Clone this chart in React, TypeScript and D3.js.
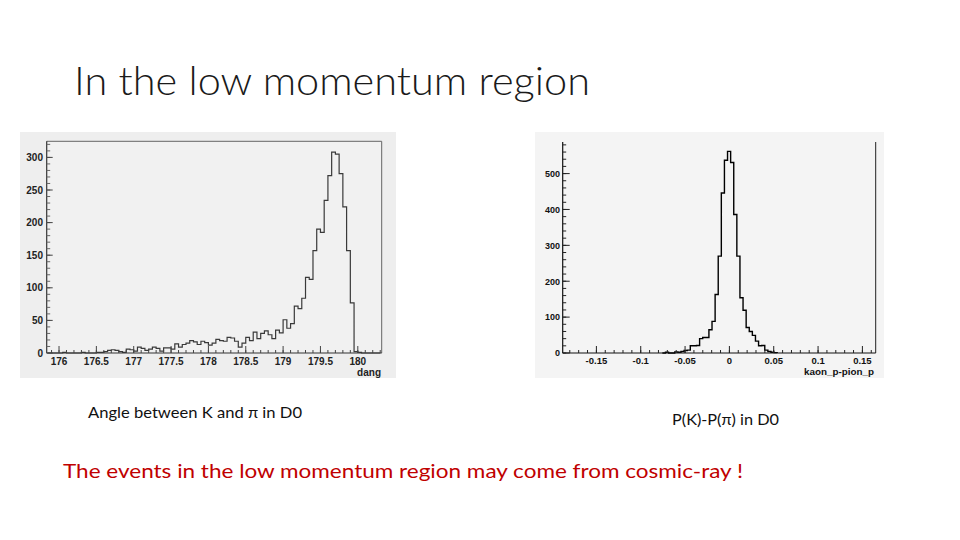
import React from "react";
import * as d3 from "d3";

// ---------- Left histogram: angle between K and pi (dang) ----------
const dangBinStart = 175.85;
const dangBinWidth = 0.05;
const dangCounts = [
  0, 0, 0, 0, 1, 0, 0, 0, 0, 1, 0, 0, 0,
  1, 1, 2, 4, 5, 4, 2, 1, 6, 5,
  3, 9, 7, 4, 6, 9, 7, 3, 8, 8,
  6, 14, 9, 13, 15, 19, 17, 13, 18, 16,
  12, 15, 21, 19, 18, 24, 23, 18, 9, 15,
  24, 19, 32, 22, 30, 34, 28, 22, 35, 31,
  51, 38, 45, 72, 68, 84, 116, 113, 157, 190,
  185, 234, 272, 308, 305, 275, 224, 157, 77, 2,
  1, 0, 0, 0, 0, 0,
];
const dangXTicks = [176, 176.5, 177, 177.5, 178, 178.5, 179, 179.5, 180];
const dangXTickLabels = ["176", "176.5", "177", "177.5", "178", "178.5", "179", "179.5", "180"];
const dangYTicks = [0, 50, 100, 150, 200, 250, 300];

// ---------- Right histogram: kaon_p - pion_p ----------
const dpBinStart = -0.0756;
const dpBinWidth = 0.0035;
const dpCounts = [
  0, 2, 0, 0, 3, 2, 4, 7, 8, 20, 20, 21, 40, 43, 43, 65, 88,
  163, 270, 446, 537, 562, 531, 386, 270, 154, 119, 71,
  60, 49, 33, 20, 21, 8, 4, 2, 1,
];
const dpXTicks = [-0.15, -0.1, -0.05, 0, 0.05, 0.1, 0.15];
const dpXTickLabels = ["-0.15", "-0.1", "-0.05", "0", "0.05", "0.1", "0.15"];
const dpYTicks = [0, 100, 200, 300, 400, 500];

const titleText = "In the low momentum region";
const caption1 = "Angle between K and π in D0";
const caption2 = "P(K)-P(π) in D0";
const conclusion = "The events in the low momentum region may come from cosmic-ray !";

const rootFont = "'Liberation Sans', Arial, Helvetica, sans-serif";
const slideFont = "Lato, 'Open Sans', 'Noto Sans', sans-serif";

function stepPath(
  start: number,
  width: number,
  counts: number[],
  x: d3.ScaleLinear<number, number>,
  y: d3.ScaleLinear<number, number>
) {
  const pts: [number, number][] = [];
  pts.push([start, 0]);
  counts.forEach((c, i) => pts.push([start + i * width, c]));
  const end = start + counts.length * width;
  pts.push([end, counts[counts.length - 1]]);
  pts.push([end, 0]);
  const line = d3
    .line<[number, number]>()
    .x((d) => x(d[0]))
    .y((d) => y(d[1]))
    .curve(d3.curveStepAfter);
  return line(pts) || "";
}

export default function App() {
  // Left chart scales
  const xL = d3.scaleLinear().domain([175.835, 180.32]).range([46.7, 381.7]);
  const yL = d3.scaleLinear().domain([0, 324.7]).range([353, 141.3]);
  const xLMinor = d3.range(175.9, 180.31, 0.1);
  const yLMinor = d3.range(0, 321, 10);

  // Right chart scales
  const xR = d3.scaleLinear().domain([-0.188, 0.165]).range([562.7, 875.7]);
  const yR = d3.scaleLinear().domain([0, 588]).range([353, 142]);
  const xRMinor = d3.range(-0.18, 0.161, 0.01);
  const yRMinor = d3.range(0, 581, 20);

  const [lx0, lx1] = xL.range();
  const [ly0, ly1] = yL.range();
  const [rx0, rx1] = xR.range();
  const [ry0, ry1] = yR.range();

  return (
    <svg
      width={960}
      height={540}
      style={{ position: "absolute", left: 0, top: 0, background: "#ffffff" }}
    >
      <rect x={0} y={0} width={960} height={540} fill="#ffffff" />

      {/* Title */}
      <text
        x={74}
        y={95}
        fontFamily={slideFont}
        fontWeight={300}
        fontSize={39}
        fill="#1a1a1a"
        textLength={516}
        lengthAdjust="spacingAndGlyphs"
      >
        {titleText}
      </text>

      {/* ---------- Left panel ---------- */}
      <rect x={20} y={132} width={376} height={246} fill="#eeeeee" />
      <rect x={lx0} y={ly1} width={lx1 - lx0} height={ly0 - ly1} fill="#f1f1f1" />
      {/* frame top/right */}
      <line x1={lx0} y1={ly1} x2={lx1} y2={ly1} stroke="#666" strokeWidth={1} />
      <line x1={lx1} y1={ly1} x2={lx1} y2={ly0} stroke="#666" strokeWidth={1} />
      {/* histogram */}
      <path
        d={stepPath(dangBinStart, dangBinWidth, dangCounts, xL, yL)}
        fill="none"
        stroke="#3a3a3a"
        strokeWidth={1.2}
      />
      {/* axes */}
      <line x1={lx0} y1={ly0} x2={lx1} y2={ly0} stroke="#333" strokeWidth={1.2} />
      <line x1={lx0} y1={ly0} x2={lx0} y2={ly1} stroke="#333" strokeWidth={1.2} />
      {xLMinor.map((v, i) => (
        <line key={"lxm" + i} x1={xL(v)} x2={xL(v)} y1={ly0} y2={ly0 - 3} stroke="#444" strokeWidth={1} />
      ))}
      {dangXTicks.map((v, i) => (
        <g key={"lx" + i}>
          <line x1={xL(v)} x2={xL(v)} y1={ly0} y2={ly0 - 7} stroke="#444" strokeWidth={1} />
          <text
            x={xL(v)}
            y={365}
            textAnchor="middle"
            fontFamily={rootFont}
            fontWeight="bold"
            fontSize={10}
            fill="#222"
          >
            {dangXTickLabels[i]}
          </text>
        </g>
      ))}
      {yLMinor.map((v, i) => (
        <line key={"lym" + i} x1={lx0} x2={lx0 + 3.5} y1={yL(v)} y2={yL(v)} stroke="#666" strokeWidth={1} />
      ))}
      {dangYTicks.map((v, i) => (
        <g key={"ly" + i}>
          <line x1={lx0} x2={lx0 + 6} y1={yL(v)} y2={yL(v)} stroke="#444" strokeWidth={1} />
          <text
            x={43}
            y={yL(v) + 3.6}
            textAnchor="end"
            fontFamily={rootFont}
            fontWeight="bold"
            fontSize={10}
            fill="#222"
          >
            {v}
          </text>
        </g>
      ))}
      <text
        x={381}
        y={375.5}
        textAnchor="end"
        fontFamily={rootFont}
        fontWeight="bold"
        fontSize={10}
        fill="#222"
      >
        dang
      </text>

      {/* ---------- Right panel ---------- */}
      <rect x={535} y={132} width={349} height={246} fill="#f4f4f4" />
      <line x1={rx1} y1={ry1} x2={rx1} y2={ry0} stroke="#222" strokeWidth={1} />
      <path
        d={stepPath(dpBinStart, dpBinWidth, dpCounts, xR, yR)}
        fill="none"
        stroke="#000"
        strokeWidth={1.4}
      />
      <line x1={rx0} y1={ry0} x2={rx1} y2={ry0} stroke="#111" strokeWidth={1.2} />
      <line x1={rx0} y1={ry0} x2={rx0} y2={ry1} stroke="#111" strokeWidth={1.2} />
      {xRMinor.map((v, i) => (
        <line key={"rxm" + i} x1={xR(v)} x2={xR(v)} y1={ry0} y2={ry0 - 3} stroke="#222" strokeWidth={1} />
      ))}
      {dpXTicks.map((v, i) => (
        <g key={"rx" + i}>
          <line x1={xR(v)} x2={xR(v)} y1={ry0} y2={ry0 - 7} stroke="#222" strokeWidth={1} />
          <text
            x={xR(v)}
            y={364}
            textAnchor="middle"
            fontFamily={rootFont}
            fontWeight="bold"
            fontSize={9.5}
            fill="#111"
          >
            {dpXTickLabels[i]}
          </text>
        </g>
      ))}
      {yRMinor.map((v, i) => (
        <line key={"rym" + i} x1={rx0} x2={rx0 + 3.5} y1={yR(v)} y2={yR(v)} stroke="#222" strokeWidth={1} />
      ))}
      {dpYTicks.map((v, i) => (
        <g key={"ry" + i}>
          <line x1={rx0} x2={rx0 + 7} y1={yR(v)} y2={yR(v)} stroke="#222" strokeWidth={1} />
          <text
            x={560}
            y={yR(v) + 3.3}
            textAnchor="end"
            fontFamily={rootFont}
            fontWeight="bold"
            fontSize={9}
            fill="#111"
          >
            {v}
          </text>
        </g>
      ))}
      <text
        x={874}
        y={375}
        textAnchor="end"
        fontFamily={rootFont}
        fontWeight="bold"
        fontSize={9}
        fill="#111"
        textLength={70}
        lengthAdjust="spacingAndGlyphs"
      >
        kaon_p-pion_p
      </text>

      {/* Captions */}
      <text
        x={88}
        y={418}
        fontFamily={slideFont}
        fontSize={15}
        fill="#111"
        textLength={214}
        lengthAdjust="spacingAndGlyphs"
      >
        {caption1}
      </text>
      <text
        x={672}
        y={425}
        fontFamily={slideFont}
        fontSize={15}
        fill="#111"
        textLength={107}
        lengthAdjust="spacingAndGlyphs"
      >
        {caption2}
      </text>
      <text
        x={63}
        y={478}
        fontFamily={slideFont}
        fontSize={20}
        fill="#c00000"
        textLength={680}
        lengthAdjust="spacingAndGlyphs"
      >
        {conclusion}
      </text>
    </svg>
  );
}
